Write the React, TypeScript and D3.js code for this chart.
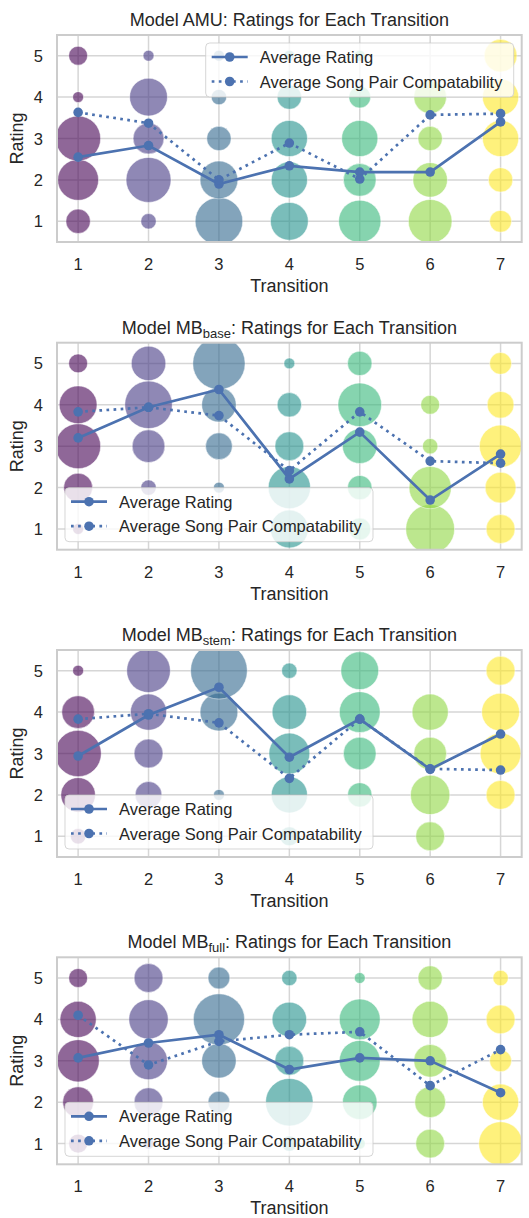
import React from 'react';
import * as d3 from 'd3';

const transitions = [1, 2, 3, 4, 5, 6, 7];
const ratingLevels = [1, 2, 3, 4, 5];

// counts per transition, for ratings 1..5
const amuCounts = [
  [5, 14, 17, 1, 3],
  [2, 17, 8, 12, 1],
  [19, 12, 5, 2, 1],
  [12, 11, 11, 5, 1],
  [15, 9, 11, 4, 1],
  [16, 10, 5, 9, 0],
  [4, 5, 11, 11, 9],
];
const amuAvgRating = [2.55, 2.83, 1.9, 2.34, 2.19, 2.19, 3.4];
const amuAvgCompat = [3.63, 3.37, 2.0, 2.89, 2.02, 3.57, 3.6];

const mbBaseCounts = [
  [1, 7, 17, 12, 3],
  [0, 2, 9, 19, 10],
  [0, 1, 6, 10, 23],
  [12, 15, 7, 5, 1],
  [4, 5, 10, 16, 5],
  [20, 15, 2, 3, 0],
  [7, 8, 15, 6, 4],
];
const mbBaseAvgRating = [3.2, 3.94, 4.37, 2.21, 3.34, 1.7, 2.81];
const mbBaseAvgCompat = [3.83, 3.94, 3.74, 2.41, 3.83, 2.64, 2.59];

const mbStemCounts = [
  [2, 10, 18, 9, 1],
  [0, 6, 7, 11, 16],
  [0, 1, 0, 12, 27],
  [3, 11, 14, 10, 2],
  [0, 5, 9, 14, 12],
  [7, 13, 9, 11, 0],
  [0, 7, 14, 12, 7],
];
const mbStemAvgRating = [2.94, 3.93, 4.6, 2.91, 3.83, 2.62, 3.47];
const mbStemAvgCompat = [3.83, 3.96, 3.74, 2.4, 3.83, 2.63, 2.6];

const mbFullCounts = [
  [3, 8, 15, 11, 3],
  [1, 7, 12, 13, 7],
  [0, 4, 10, 22, 4],
  [2, 19, 7, 10, 2],
  [1, 10, 14, 14, 1],
  [7, 8, 9, 11, 5],
  [16, 11, 4, 7, 2],
];
const mbFullAvgRating = [3.07, 3.43, 3.63, 2.79, 3.07, 3.0, 2.23];
const mbFullAvgCompat = [4.1, 2.9, 3.47, 3.63, 3.7, 2.4, 3.27];

const legendLabels = ['Average Rating', 'Average Song Pair Compatability'];

const panels = [
  { name: 'AMU', sub: '', counts: amuCounts, avg: amuAvgRating, compat: amuAvgCompat, legend: 'upper right' },
  { name: 'MB', sub: 'base', counts: mbBaseCounts, avg: mbBaseAvgRating, compat: mbBaseAvgCompat, legend: 'lower left' },
  { name: 'MB', sub: 'stem', counts: mbStemCounts, avg: mbStemAvgRating, compat: mbStemAvgCompat, legend: 'lower left' },
  { name: 'MB', sub: 'full', counts: mbFullCounts, avg: mbFullAvgRating, compat: mbFullAvgCompat, legend: 'lower left' },
];

const W = 529;
const H = 1218;
const FONT = '"Liberation Sans", Arial, sans-serif';
const TEXT = '#262626';
const BLUE = '#4c72b0';
const left = 57;
const right = 521.7;
const plotH = 207;
const tops = [35, 342.7, 650, 957.3];

const x = d3.scaleLinear().domain([0.7, 7.3]).range([left, right]);
const rScale = d3.scaleSqrt().domain([0, 40]).range([0, 34.5]);

function Panel({ p, idx }: any) {
  const top = tops[idx];
  const bottom = top + plotH;
  const y = d3.scaleLinear().domain([0.5, 5.5]).range([bottom, top]);
  const line = d3.line<number>().x((_, i) => x(transitions[i])).y((d) => y(d));
  const clipId = `clip-${idx}`;
  const legW = 308;
  const legH = 54;
  const legX = p.legend === 'upper right' ? right - 8 - legW : left + 8;
  const legY = p.legend === 'upper right' ? top + 8 : bottom - 8 - legH;
  const cx = (left + right) / 2;
  return (
    <g>
      <defs>
        <clipPath id={clipId}>
          <rect x={left} y={top} width={right - left} height={plotH} />
        </clipPath>
      </defs>
      {/* grid */}
      {transitions.map((t) => (
        <line key={'gx' + t} x1={x(t)} x2={x(t)} y1={top} y2={bottom} stroke="#d6d6d6" strokeWidth={1.5} />
      ))}
      {ratingLevels.map((r) => (
        <line key={'gy' + r} x1={left} x2={right} y1={y(r)} y2={y(r)} stroke="#d6d6d6" strokeWidth={1.5} />
      ))}
      {/* bubbles */}
      <g clipPath={`url(#${clipId})`}>
        {p.counts.map((row: number[], ti: number) =>
          row.map((c: number, ri: number) =>
            c > 0 ? (
              <circle
                key={`b${ti}-${ri}`}
                cx={x(transitions[ti])}
                cy={y(ratingLevels[ri])}
                r={rScale(c)}
                fill={d3.interpolateViridis(ti / 6)}
                fillOpacity={0.6}
                stroke="#ffffff"
                strokeOpacity={0.6}
                strokeWidth={0.8}
              />
            ) : null
          )
        )}
        <path d={line(p.avg) || ''} fill="none" stroke={BLUE} strokeWidth={2.7} />
        {p.avg.map((v: number, i: number) => (
          <circle key={'a' + i} cx={x(transitions[i])} cy={y(v)} r={4.8} fill={BLUE} />
        ))}
        <path d={line(p.compat) || ''} fill="none" stroke={BLUE} strokeWidth={2.7} strokeDasharray="2.7 4.4" />
        {p.compat.map((v: number, i: number) => (
          <circle key={'c' + i} cx={x(transitions[i])} cy={y(v)} r={4.8} fill={BLUE} />
        ))}
      </g>
      {/* legend */}
      <g>
        <rect x={legX} y={legY} width={legW} height={legH} rx={4} fill="#ffffff" fillOpacity={0.8} stroke="#cccccc" strokeOpacity={0.8} strokeWidth={1} />
        {legendLabels.map((lab, i) => {
          const ry = legY + 14 + i * 24.5;
          return (
            <g key={lab}>
              <line x1={legX + 6} x2={legX + 42} y1={ry} y2={ry} stroke={BLUE} strokeWidth={2.7} strokeDasharray={i === 1 ? '2.7 4.4' : undefined} />
              <circle cx={legX + 24} cy={ry} r={4.8} fill={BLUE} />
              <text x={legX + 54} y={ry + 6} fontSize={16.5} fill={TEXT} fontFamily={FONT}>{lab}</text>
            </g>
          );
        })}
      </g>
      {/* frame */}
      <rect x={left} y={top} width={right - left} height={plotH} fill="none" stroke="#cccccc" strokeWidth={2} />
      {/* ticks */}
      {transitions.map((t) => (
        <text key={'tx' + t} x={x(t)} y={bottom + 28} textAnchor="middle" fontSize={16.5} fill={TEXT} fontFamily={FONT}>{t}</text>
      ))}
      {ratingLevels.map((r) => (
        <text key={'ty' + r} x={43} y={y(r) + 6} textAnchor="end" fontSize={16.5} fill={TEXT} fontFamily={FONT}>{r}</text>
      ))}
      <text x={cx} y={bottom + 50} textAnchor="middle" fontSize={18} fill={TEXT} fontFamily={FONT}>Transition</text>
      <text transform={`translate(23,${(top + bottom) / 2}) rotate(-90)`} textAnchor="middle" fontSize={18} fill={TEXT} fontFamily={FONT}>Rating</text>
      <text x={cx} y={top - 9} textAnchor="middle" fontSize={18} fill={TEXT} fontFamily={FONT}>
        {`Model ${p.name}`}
        {p.sub ? <tspan fontSize={13} dy={4}>{p.sub}</tspan> : null}
        {p.sub ? <tspan dy={-4}>{': Ratings for Each Transition'}</tspan> : ': Ratings for Each Transition'}
      </text>
    </g>
  );
}

export default function App() {
  return (
    <svg width={W} height={H} style={{ position: 'absolute', left: 0, top: 0, background: '#ffffff' }}>
      <rect x={0} y={0} width={W} height={H} fill="#ffffff" />
      {panels.map((p, i) => (
        <Panel key={i} p={p} idx={i} />
      ))}
    </svg>
  );
}
